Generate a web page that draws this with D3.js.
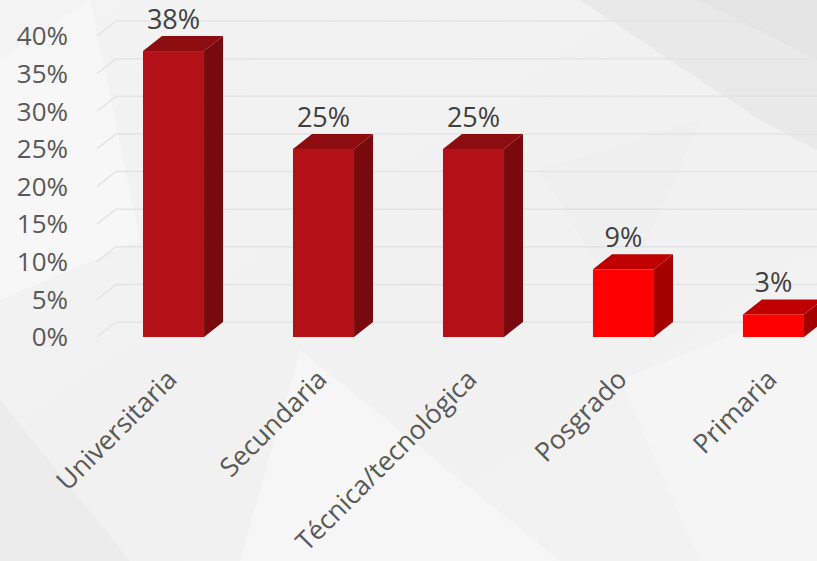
<!DOCTYPE html>
<html><head><meta charset="utf-8">
<script src="https://cdn.jsdelivr.net/npm/d3@7"></script>
<style>body{margin:0;background:#efefef;overflow:hidden}svg{display:block}</style>
</head><body>
<svg id="c" width="817" height="561"></svg>
<script>
const categories = ["Universitaria","Secundaria","Técnica/tecnológica","Posgrado","Primaria"];
const values = [38, 25, 25, 9, 3];
const valueLabels = ["38%","25%","25%","9%","3%"];
const yTicks = [0,5,10,15,20,25,30,35,40];
const highlight = [false,false,false,true,true];

const W=817,H=561;
const svg=d3.select("#c");
const defs=svg.append("defs");
const g0=defs.append("linearGradient").attr("id","bg").attr("x1","0").attr("y1","0").attr("x2","1").attr("y2","1");
g0.append("stop").attr("offset","0").attr("stop-color","#f3f3f3");
g0.append("stop").attr("offset","0.5").attr("stop-color","#f1f1f1");
g0.append("stop").attr("offset","1").attr("stop-color","#f2f2f2");
svg.append("rect").attr("width",W).attr("height",H).attr("fill","url(#bg)");
const polys=[
 [[0,60],[90,0],[140,240],[0,300],"#f7f7f7"],
 [[580,0],[817,0],[817,150],[760,120],"#e9e9e9"],
 [[700,0],[817,0],[817,60],"#e4e4e4"],
 [[300,350],[560,561],[240,561],"#f6f6f6"],
 [[0,400],[130,561],[0,561],"#ececec"],
 [[620,380],[817,300],[817,561],[700,561],"#f5f5f5"],
 [[540,170],[700,120],[620,300],"#efefef"]
];
polys.forEach(p=>{const col=p.pop();svg.append("polygon").attr("points",p.map(q=>q.join(",")).join(" ")).attr("fill",col);});

const dx=19, dy=15;
const x=d3.scaleBand().domain(categories).range([68,879]).paddingInner(0.593).paddingOuter(0.5);
const y=d3.scaleLinear().domain([0,40]).range([337,36]);

const gl=svg.append("g");
yTicks.forEach(t=>{
  const yy=y(t);
  gl.append("path").attr("d",`M97,${yy} L${97+dx},${yy-dy} L${W},${yy-dy}`)
    .attr("fill","none").attr("stroke","#e3e3e3").attr("stroke-width",1.5);
});

const font="'Open Sans', sans-serif";
svg.append("g").selectAll("text").data(yTicks).join("text")
  .attr("x",68).attr("y",d=>y(d)).attr("dy","0.36em").attr("text-anchor","end")
  .attr("font-family",font).attr("font-size",26).attr("fill","#595959")
  .text(d=>d+"%");

const bars=svg.append("g").selectAll("g").data(categories).join("g");
bars.each(function(c,i){
  const g=d3.select(this);
  const x0=x(c), w=x.bandwidth(), y0=y(0), y1=y(values[i]);
  const hi=highlight[i];
  const front=hi?"#ff0000":"#b31117", side=hi?"#a50000":"#780a0e", top=hi?"#c00000":"#8c0c10";
  g.append("path").attr("d",`M${x0+w},${y1} L${x0+w+dx},${y1-dy} L${x0+w+dx},${y0-dy} L${x0+w},${y0} Z`).attr("fill",side);
  g.append("path").attr("d",`M${x0},${y1} L${x0+dx},${y1-dy} L${x0+w+dx},${y1-dy} L${x0+w},${y1} Z`).attr("fill",top);
  g.append("rect").attr("x",x0).attr("y",y1).attr("width",w).attr("height",y0-y1).attr("fill",front);
  g.append("text").attr("x",x0+w/2).attr("y",y1-dy-7).attr("text-anchor","middle")
    .attr("font-family",font).attr("font-size",27).attr("fill","#404040").text(valueLabels[i]);
});

svg.append("g").selectAll("text").data(categories).join("text")
  .attr("transform",d=>`translate(${x(d)+x.bandwidth()/2+5},${381}) rotate(-45)`)
  .attr("text-anchor","end")
  .attr("font-family",font).attr("font-size",26.5).attr("fill","#595959")
  .text(d=>d);
</script>
</body></html>
